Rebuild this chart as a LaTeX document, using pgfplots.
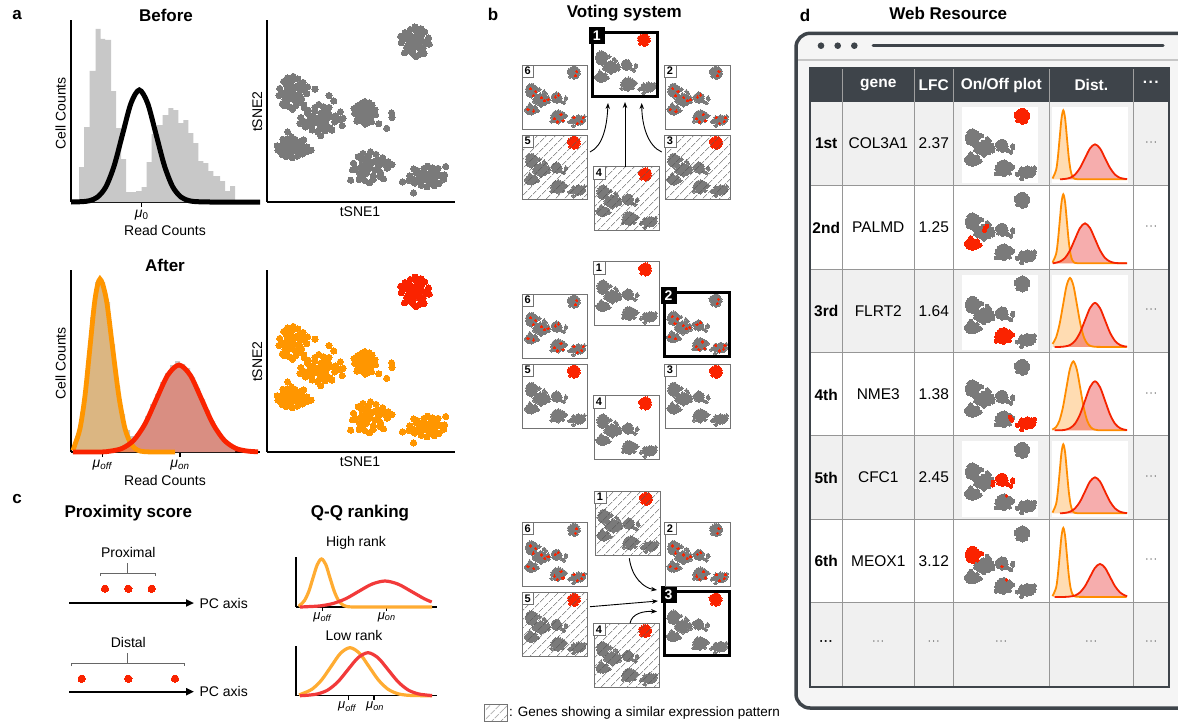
\documentclass[border=0pt]{standalone}
\usepackage{fontspec}
\setmainfont{Liberation Sans}
\usepackage{pgfplots}
\pgfplotsset{compat=1.18}
\usepackage{pgfplotstable}
\usetikzlibrary{patterns.meta,arrows.meta}

\definecolor{dotgray}{RGB}{122,122,122}
\definecolor{histgray}{RGB}{200,200,200}
\definecolor{aor}{RGB}{255,150,0}
\definecolor{ared}{RGB}{250,35,0}
\definecolor{qor}{RGB}{255,172,50}
\definecolor{qred}{RGB}{242,58,58}
\definecolor{frame}{RGB}{62,68,74}
\definecolor{rowg}{RGB}{240,240,240}
\definecolor{bgl}{RGB}{245,245,245}
\definecolor{gridc}{RGB}{150,150,150}
\definecolor{boxg}{RGB}{115,115,115}
\definecolor{dor}{RGB}{255,140,0}
\definecolor{dred}{RGB}{245,35,0}
\definecolor{dfill}{RGB}{235,60,60}

\newcommand{\fsz}[1]{\fontsize{#1}{#1}\selectfont}
\newcommand{\msize}{2pt}

\pgfplotstableread{
x y
7.87 8.80
8.23 8.89
7.51 8.93
7.99 9.23
7.75 8.38
8.31 8.46
7.43 8.50
8.11 8.12
7.63 9.48
8.59 9.01
7.15 8.76
8.39 9.35
7.35 9.31
8.35 8.16
7.31 8.20
7.87 9.61
7.91 7.99
8.07 8.97
7.67 8.67
8.03 8.50
7.63 9.14
8.63 8.67
7.11 9.10
8.19 9.52
7.99 8.67
7.79 9.06
8.15 8.72
7.55 8.72
7.95 9.40
7.75 8.16
8.47 8.72
7.27 8.97
8.23 9.18
7.51 9.18
8.23 8.33
7.47 8.33
}\TRc

\pgfplotstableread{
x y
1.40 6.00
1.04 6.10
1.76 6.14
1.28 6.48
1.52 5.53
0.96 5.62
1.84 5.67
1.16 5.24
1.64 6.76
0.68 6.24
2.12 5.95
0.88 6.62
1.92 6.57
0.92 5.29
1.96 5.34
1.40 6.90
1.36 5.10
1.20 6.19
1.60 5.86
1.24 5.67
1.64 6.38
0.64 5.86
2.16 6.33
1.08 6.81
0.82 5.40
2.55 6.20
1.28 5.86
1.48 6.29
1.12 5.91
1.72 5.91
1.32 6.67
1.52 5.29
0.80 5.91
2.00 6.19
1.04 6.43
1.76 6.43
1.04 5.48
1.80 5.48
}\ULc

\pgfplotstableread{
x y
2.70 4.60
3.15 4.52
2.25 4.48
2.85 4.20
2.55 5.00
3.25 4.92
2.15 4.88
3.00 5.24
2.40 3.96
3.60 4.40
1.80 4.64
3.35 4.08
2.05 4.12
3.30 5.20
2.00 5.16
2.70 3.84
2.75 5.36
2.95 4.44
2.45 4.72
2.90 4.88
2.40 4.28
3.65 4.72
1.75 4.32
3.10 3.92
3.30 5.85
3.55 5.55
3.90 4.95
3.85 4.55
2.85 3.65
3.45 3.95
2.85 4.72
2.60 4.36
3.05 4.68
2.30 4.68
2.80 4.04
2.55 5.20
3.45 4.68
1.95 4.44
3.15 4.24
2.25 4.24
3.15 5.04
2.20 5.04
}\MLc

\pgfplotstableread{
x y
1.35 3.00
0.97 2.94
1.73 2.91
1.22 2.70
1.48 3.30
0.88 3.24
1.82 3.21
1.10 3.48
1.61 2.52
0.59 2.85
2.12 3.03
0.80 2.61
1.90 2.64
0.84 3.45
1.95 3.42
1.35 2.43
1.31 3.57
1.14 2.88
1.56 3.09
1.18 3.21
1.61 2.76
0.54 3.09
2.16 2.79
1.01 2.49
1.10 3.85
2.35 2.85
1.22 3.09
1.44 2.82
1.05 3.06
1.69 3.06
1.27 2.58
1.48 3.45
0.71 3.06
1.99 2.88
0.97 2.73
1.73 2.73
0.97 3.33
1.78 3.33
}\LLc

\pgfplotstableread{
x y
5.20 4.90
5.47 4.97
4.93 5.00
5.29 5.23
5.11 4.58
5.53 4.64
4.87 4.67
5.38 4.38
5.02 5.42
5.74 5.06
4.66 4.87
5.59 5.32
4.81 5.29
5.56 4.41
4.78 4.45
5.20 5.52
5.23 4.28
5.35 5.03
5.05 4.80
5.32 4.67
5.02 5.16
5.77 4.80
4.63 5.13
5.44 5.45
6.63 4.90
6.65 4.65
6.37 4.05
4.05 4.60
4.00 4.20
5.95 4.30
5.29 4.80
5.14 5.10
5.41 4.84
4.96 4.84
5.26 5.36
5.11 4.41
5.65 4.84
4.75 5.03
5.47 5.19
4.93 5.19
5.47 4.54
4.90 4.54
}\Mc

\pgfplotstableread{
x y
5.50 1.90
5.05 1.99
5.95 2.04
5.35 2.35
5.65 1.45
4.95 1.54
6.05 1.59
5.20 1.18
5.80 2.62
4.60 2.13
6.40 1.86
4.85 2.49
6.15 2.44
4.90 1.23
6.20 1.27
5.50 2.76
5.45 1.05
5.25 2.08
5.75 1.77
5.30 1.59
5.80 2.26
4.55 1.77
6.45 2.22
5.10 2.67
6.65 2.05
4.45 1.20
5.35 1.77
5.60 2.17
5.15 1.81
5.90 1.81
5.40 2.53
5.65 1.23
4.75 1.81
6.25 2.08
5.05 2.31
5.95 2.31
5.05 1.41
6.00 1.41
}\BMc

\pgfplotstableread{
x y
8.50 1.40
8.95 1.34
8.05 1.31
8.65 1.10
8.35 1.70
9.05 1.64
7.95 1.61
8.80 1.88
8.20 0.92
9.40 1.25
7.60 1.43
9.15 1.01
7.85 1.04
9.10 1.85
7.80 1.82
8.50 0.83
8.55 1.97
8.75 1.28
8.25 1.49
8.70 1.61
8.20 1.16
9.45 1.49
7.55 1.19
8.90 0.89
7.20 1.10
7.80 0.50
9.50 1.95
8.65 1.49
8.40 1.22
8.85 1.46
8.10 1.46
8.60 0.98
8.35 1.85
9.25 1.46
7.75 1.28
8.95 1.13
8.05 1.13
8.95 1.73
8.00 1.73
}\BRc

\pgfplotstableread{
x y
1.20 6.30
2.00 5.90
1.60 5.20
2.90 4.90
3.40 4.40
0.80 3.10
1.70 2.80
3.90 4.60
5.00 5.00
5.50 5.30
4.90 1.60
5.90 2.30
5.30 1.10
6.20 1.30
7.90 1.80
9.10 1.20
8.40 0.90
9.30 1.80
8.30 9.00
8.10 8.30
}\SCc

\pgfplotsset{
  gdot/.style={only marks, mark=*, mark size=\msize, mark options={draw=dotgray, fill=dotgray, line width=0pt}},
  rdot/.style={only marks, mark=*, mark size=\msize, mark options={draw=ared, fill=ared, line width=0pt}},
  odot/.style={only marks, mark=*, mark size=\msize, mark options={draw=aor, fill=aor, line width=0pt}},
  lax/.style={scale only axis, anchor=south west, clip=false, axis lines=left,
     axis line style={-, line width=1.8pt}, ytick=\empty, xtick=\empty,
     xticklabels={},
     tick align=outside, major tick length=5pt, xtick style={line width=1.2pt, black}},
  hid/.style={scale only axis, hide axis, clip=false},
}

\newcommand{\allgray}{%
\addplot[gdot] table {\ULc};
\addplot[gdot] table {\LLc};
\addplot[gdot] table {\MLc};
\addplot[gdot] table {\Mc};
\addplot[gdot] table {\BMc};
\addplot[gdot] table {\BRc};
}
\newcommand{\redTR}{\addplot[rdot] table {\TRc};}
\newcommand{\scatR}{\addplot[gdot] table {\TRc};\addplot[rdot, mark size=1.1pt] table {\SCc};}

% panel b thumbnail: x, y (top-left, px), content
\newcommand{\thumb}[3]{%
\renewcommand{\msize}{1.8pt}%
\begin{axis}[hid, anchor=north west, at={(#1pt,-#2pt)}, width=65pt, height=64pt,
  xmin=0, xmax=10, ymin=0, ymax=10]
\allgray
#3
\end{axis}}

% panel d thumbnail: y, red content
\newcommand{\tthumb}[2]{%
\renewcommand{\msize}{2pt}%
\begin{axis}[hid, anchor=north west, at={(962.3pt,-#1pt)}, width=76pt, height=75.4pt,
  xmin=0, xmax=10, ymin=0, ymax=10]
\allgray
\addplot[gdot] table {\TRc};
#2
\end{axis}}

% panel d distribution: y, orange coords, red coords
\newcommand{\tdist}[3]{%
\begin{axis}[hid, anchor=north west, at={(1051.7pt,-#1pt)}, width=76.6pt, height=75.4pt,
  xmin=0, xmax=76.6, ymin=-3.4, ymax=72]
\addplot[draw=none, fill=dor, fill opacity=0.3, smooth] coordinates {#2} \closedcycle;
\addplot[draw=none, fill=dfill, fill opacity=0.42, smooth] coordinates {#3} \closedcycle;
\addplot[dor, line width=1.8pt, smooth] coordinates {#2};
\addplot[dred, line width=1.8pt, smooth] coordinates {#3};
\end{axis}}

\begin{document}
\begin{tikzpicture}
\begin{scope}[x=1pt,y=-1pt]
\useasboundingbox (0,0) rectangle (1178,725);
\fill[white] (0,0) rectangle (1178,725);
% browser frame
\draw[frame, line width=3.5pt, fill=bgl, rounded corners=14pt] (796,33.3) rectangle (1210,708);
\draw[gray!45, line width=1.2pt] (798,60) -- (1178,60);
\fill[frame] (821,45.7) circle (3.3) (837.7,45.7) circle (3.3) (854.3,45.7) circle (3.3);
\draw[frame, line width=3pt, line cap=round] (873,45.7) -- (1163,45.7);
% table
\fill[frame] (810,68.3) rectangle (1169.3,101.7);
\fill[rowg] (810,101.7) rectangle (1169.3,185.7);
\fill[white] (810,185.7) rectangle (1169.3,269.3);
\fill[rowg] (810,269.3) rectangle (1169.3,352.7);
\fill[white] (810,352.7) rectangle (1169.3,435.7);
\fill[rowg] (810,435.7) rectangle (1169.3,519.3);
\fill[white] (810,519.3) rectangle (1169.3,602.3);
\fill[rowg] (810,602.3) rectangle (1169.3,686.7);
\foreach \yy in {185.7,269.3,352.7,435.7,519.3,602.3} \draw[gridc, line width=0.8pt] (810,\yy) -- (1169.3,\yy);
\foreach \xx in {842.3,914.3,953.3,1049.3,1133.3} {\draw[gridc, line width=0.8pt] (\xx,101.7) -- (\xx,686.7); \draw[gray!75, line width=0.8pt] (\xx,68.3) -- (\xx,101.7);}
\draw[frame, line width=2pt] (810,68.3) rectangle (1169.3,686.7);
\foreach \yy in {107.3,191.3,274.9,358.3,441.3,524.9} {\fill[white] (962.3,\yy) rectangle ++(76,75.4); \fill[white] (1051.7,\yy) rectangle ++(76.6,75.4);}
\end{scope}

% ===== panel a =====
\begin{axis}[lax, at={(71pt,-202pt)}, width=189pt, height=182pt, xmin=71, xmax=260, ymin=0, ymax=182, xtick={141.7}]
\addplot[ybar interval, fill=histgray, draw=none] coordinates {(79,35) (84,75) (89.7,131) (95.7,173) (100.7,163) (105,162) (111,111) (116,74) (121,43) (126,10) (131,10) (136,11) (141.7,15) (146.7,40) (151.7,68) (156.7,77) (162.7,87) (168.3,94) (173.3,92) (178.3,79) (183.3,82) (188.3,69) (193.3,59) (198.3,41) (203.3,39) (208.3,31) (213.3,26) (220,21) (225,11) (230,16) (235,16)};
\addplot[black, line width=5pt, smooth] coordinates {(71,0) (81,0.3) (89.2,1.2) (97.5,4.9) (105.9,15.2) (114.2,36.4) (122.6,67.9) (131,98.8) (139.3,112) (147.6,98.8) (156,67.9) (164.4,36.4) (172.7,15.2) (181.1,4.9) (189.4,1.2) (197.6,0.3) (210,0) (260,0)};
\end{axis}

\renewcommand{\msize}{3.1pt}
\begin{axis}[lax, at={(267pt,-202pt)}, width=188pt, height=182pt, xmin=0, xmax=10, ymin=0, ymax=10]
\allgray
\addplot[gdot] table {\TRc};
\end{axis}

\begin{axis}[lax, at={(71pt,-452pt)}, width=189pt, height=182pt, xmin=71, xmax=260, ymin=0, ymax=182, xtick={102.7,180}]
\addplot[ybar interval, fill=histgray, draw=none] coordinates {(75,16) (80,40) (85,82) (90,135) (95,170) (100,170) (105,150) (110,108) (115,66) (120,38) (125,22) (130,16) (135,18) (140,25) (145,36) (150,48) (155,58) (160,70) (165,79) (170,87) (175,91) (180,88) (185,84) (190,75) (195,64) (200,53) (205,42) (210,31) (215,22) (220,15) (225,10) (230,6) (235,6)};
\addplot[draw=none, fill=aor, fill opacity=0.35, smooth] coordinates {(73,1.5) (75,7.6) (80,23.4) (85,56.2) (90,105) (95,152.7) (100,173) (106.3,152.7) (112.5,105) (118.8,56.2) (125,23.4) (131.3,7.6) (137.5,1.9) (143.8,0.4) (155,0)} \closedcycle;
\addplot[draw=none, fill=ared, fill opacity=0.35, smooth] coordinates {(100,0) (111.2,1) (122.5,3.8) (133.8,11.8) (145.1,28.2) (156.4,52.8) (167.7,76.8) (179,87) (190.3,76.8) (201.6,52.8) (212.9,28.2) (224.2,11.8) (235.5,3.8) (246.8,1) (258,0.2)} \closedcycle;
\addplot[aor, line width=4.8pt, smooth] coordinates {(73,1.5) (75,7.6) (80,23.4) (85,56.2) (90,105) (95,152.7) (100,173) (106.3,152.7) (112.5,105) (118.8,56.2) (125,23.4) (131.3,7.6) (137.5,1.9) (143.8,0.4) (155,0) (175,0)};
\addplot[ared, line width=4.8pt, smooth] coordinates {(73,0) (100,0) (111.2,1) (122.5,3.8) (133.8,11.8) (145.1,28.2) (156.4,52.8) (167.7,76.8) (179,87) (190.3,76.8) (201.6,52.8) (212.9,28.2) (224.2,11.8) (235.5,3.8) (246.8,1) (258,0.2)};
\end{axis}

\begin{axis}[lax, at={(267pt,-452pt)}, width=188pt, height=182pt, xmin=0, xmax=10, ymin=0, ymax=10]
\addplot[odot] table {\ULc};
\addplot[odot] table {\LLc};
\addplot[odot] table {\MLc};
\addplot[odot] table {\Mc};
\addplot[odot] table {\BMc};
\addplot[odot] table {\BRc};
\addplot[rdot] table {\TRc};
\end{axis}

% ===== panel c =====
\begin{axis}[hid, anchor=south west, at={(60pt,-700pt)}, width=140pt, height=140pt, xmin=60, xmax=200, ymin=-700, ymax=-560]
\addplot[only marks, mark=*, mark size=3.7pt, mark options={draw=ared, fill=ared, line width=0pt}] coordinates {(105,-588.7) (128.3,-588.7) (151.7,-588.7) (81.7,-678.7) (128.3,-678.7) (175,-678.7)};
\end{axis}

\begin{axis}[lax, axis line style={-, line width=1.5pt}, major tick length=4pt, at={(296pt,-607pt)}, width=141pt, height=50pt, xmin=296, xmax=437, ymin=0, ymax=50, xtick={322.7,386.7}]
\addplot[qor, line width=3.2pt, smooth] coordinates {(298.5,0.6) (300.3,2.1) (304.5,6.5) (308.8,15.6) (313,29.1) (317.3,42.4) (321.5,48) (325.8,42.4) (330,29.1) (334.3,15.6) (338.5,6.5) (342.8,2.1) (347,0.5) (351.3,0.1) (370,0) (432,0)};
\addplot[qred, line width=3.2pt, smooth] coordinates {(300,0) (307,0.3) (320,1.1) (333,3.5) (346,8.4) (359,15.8) (372,22.9) (385,26) (398,22.9) (411,15.8) (424,8.4) (431.7,5)};
\end{axis}

\begin{axis}[lax, axis line style={-, line width=1.5pt}, major tick length=4pt, at={(296pt,-695.7pt)}, width=141pt, height=50pt, xmin=296, xmax=437, ymin=0, ymax=50, xtick={348.3,374}]
\addplot[qor, line width=3.2pt, smooth] coordinates {(299,0.8) (302.5,2.1) (312,6.5) (321.5,15.6) (331,29.1) (340.5,42.4) (350,48) (359.5,42.4) (369,29.1) (378.5,15.6) (388,6.5) (397.5,2.1) (407,0.5) (416.5,0.1) (432,0)};
\addplot[qred, line width=3.2pt, smooth] coordinates {(300,0) (308,0.5) (318,1.9) (328,5.8) (338,14) (348,26.1) (358,37.9) (368,43) (378,37.9) (388,26.1) (398,14) (408,5.8) (418,1.9) (428,0.5) (432,0.2)};
\end{axis}

% ===== panel b thumbnails =====
\thumb{592.7}{32.3}{\redTR}
\thumb{522.7}{65}{\scatR}
\thumb{665}{65}{\scatR}
\thumb{522.7}{135}{\redTR}
\thumb{665}{135}{\redTR}
\thumb{594}{166.7}{\redTR}

\thumb{594}{261.7}{\redTR}
\thumb{522.7}{294}{\scatR}
\thumb{664.5}{292.7}{\scatR}
\thumb{522.7}{364}{\redTR}
\thumb{665}{364}{\redTR}
\thumb{594}{395.7}{\redTR}

\thumb{595}{491}{\redTR}
\thumb{522.7}{522.3}{\scatR}
\thumb{665}{522.3}{\scatR}
\thumb{522.7}{592.3}{\redTR}
\thumb{664.5}{591.7}{\redTR}
\thumb{594}{623.3}{\redTR}

% ===== panel d plots =====
\tthumb{107.3}{\redTR}
\tthumb{191.3}{\addplot[rdot] table {\LLc};\addplot[rdot] coordinates {(3.0,5.1) (3.2,5.35) (2.9,4.8)};}
\tthumb{274.9}{\addplot[rdot] table {\BMc};}
\tthumb{358.3}{\addplot[rdot] table {\BRc};\addplot[rdot] coordinates {(6.3,2.2) (6.5,1.8)};}
\tthumb{441.3}{\addplot[rdot] table {\Mc};\addplot[rdot, mark size=1.2pt] coordinates {(5.85,2.75)};}
\tthumb{524.9}{\addplot[rdot] table {\ULc};\addplot[rdot, mark size=1.3pt] coordinates {(5.2,4.5) (5.8,2.7)};}

\tdist{107.3}{(0.8,0.8) (4.4,9.3) (6.2,22.4) (8.0,41.8) (9.8,60.9) (11.6,69) (13.4,60.9) (15.2,41.8) (17.0,22.4) (18.8,9.3) (20.6,3.0) (22.4,0.8) (26,0.1) (40,0) (75,0)}{(8.3,0) (13.3,0.4) (18.3,1.5) (23.3,4.7) (28.3,11.4) (33.3,21.2) (38.3,30.9) (43.3,35) (48.3,30.9) (53.3,21.2) (58.3,11.4) (63.3,4.7) (68.3,1.5) (73.3,0.4) (75.5,0.2)}
\tdist{191.3}{(0.8,0.8) (4.4,9.3) (6.2,22.4) (8.0,41.8) (9.8,60.9) (11.6,69) (13.4,60.9) (15.2,41.8) (17.0,22.4) (18.8,9.3) (20.6,3.0) (22.4,0.8) (26,0.1) (40,0) (75,0)}{(1,0) (3.3,0.4) (8.3,1.8) (13.3,5.4) (18.3,13) (23.3,24.3) (28.3,35.3) (33.3,40) (38.3,35.3) (43.3,24.3) (48.3,13) (53.3,5.4) (58.3,1.8) (63.3,0.4) (68.3,0.1) (75.5,0)}
\tdist{274.9}{(0.8,3.0) (4.3,9.3) (7.8,22.4) (11.3,41.8) (14.8,60.9) (18.3,69) (21.8,60.9) (25.3,41.8) (28.8,22.4) (32.3,9.3) (35.8,3.0) (39.3,0.8) (42.8,0.15) (50,0) (75,0)}{(3,0) (8.3,0) (13.3,0.5) (18.3,1.9) (23.3,6) (28.3,14.3) (33.3,26.7) (38.3,38.8) (43.3,44) (48.3,38.8) (53.3,26.7) (58.3,14.3) (63.3,6) (68.3,1.9) (73.3,0.5) (75.5,0.3)}
\tdist{358.3}{(0.6,0.8) (4.1,3.0) (7.6,9.3) (11.1,22.4) (14.6,41.8) (18.1,60.9) (21.6,69) (25.1,60.9) (28.6,41.8) (32.1,22.4) (35.6,9.3) (39.1,3.0) (42.6,0.8) (46.1,0.15) (52,0) (75,0)}{(3,0) (8.3,0) (13.3,0.5) (18.3,2.2) (23.3,6.6) (28.3,15.9) (33.3,29.7) (38.3,43.2) (43.3,49) (48.3,43.2) (53.3,29.7) (58.3,15.9) (63.3,6.6) (68.3,2.2) (73.3,0.5) (75.5,0.3)}
\tdist{441.3}{(0.8,0.8) (4.4,9.3) (6.2,22.4) (8.0,41.8) (9.8,60.9) (11.6,69) (13.4,60.9) (15.2,41.8) (17.0,22.4) (18.8,9.3) (20.6,3.0) (22.4,0.8) (26,0.1) (40,0) (75,0)}{(8.3,0) (13.3,0.4) (18.3,1.6) (23.3,4.9) (28.3,11.7) (33.3,21.8) (38.3,31.8) (43.3,36) (48.3,31.8) (53.3,21.8) (58.3,11.7) (63.3,4.9) (68.3,1.6) (73.3,0.4) (75.5,0.2)}
\tdist{524.9}{(0.8,0.8) (4.4,9.3) (6.2,22.4) (8.0,41.8) (9.8,60.9) (11.6,69) (13.4,60.9) (15.2,41.8) (17.0,22.4) (18.8,9.3) (20.6,3.0) (22.4,0.8) (26,0.1) (40,0) (75,0)}{(3,0) (13.3,0) (18.3,0.4) (23.3,1.4) (28.3,4.5) (33.3,10.7) (38.3,20) (43.3,29.1) (48.3,33) (53.3,29.1) (58.3,20) (63.3,10.7) (68.3,4.5) (73.3,1.4) (75.5,0.9)}

% ===== overlay =====
\begin{scope}[x=1pt,y=-1pt]
\tikzset{
  hatchp/.style={pattern={Lines[angle=45,distance=6.5pt,line width=0.55pt]}, pattern color=black!65},
  lbl/.style={draw=boxg, fill=white, inner sep=0pt, minimum width=11.5pt, minimum height=12.5pt, font={\bfseries\fsz{11}}},
  slbl/.style={fill=black, text=white, inner sep=0pt, minimum width=16pt, minimum height=17pt, font={\bfseries\fsz{14}}},
  arr/.style={line width=0.9pt, -{Stealth[length=6pt,width=4.5pt]}},
}
\newcommand{\hatchbox}[2]{\fill[hatchp] (#1,#2) rectangle ++(65,64);}
\newcommand{\tframe}[3]{\draw[boxg, line width=0.9pt] (#1,#2) rectangle ++(65,64); \node[lbl] at (#1+5,#2+6) {#3};}
\newcommand{\sframe}[3]{\draw[black, line width=2.8pt] (#1,#2) rectangle ++(65,64); \node[slbl] at (#1+4,#2+3) {#3};}

% group 1
\hatchbox{522.7}{135} \hatchbox{665}{135} \hatchbox{594}{166.7}
\sframe{592.7}{32.3}{1}
\tframe{522.7}{65}{6} \tframe{665}{65}{2} \tframe{522.7}{135}{5} \tframe{665}{135}{3} \tframe{594}{166.7}{4}
\draw[arr] (590,152) .. controls (603,146) and (607,126) .. (608,103);
\draw[arr] (625,166.7) -- (625,102);
\draw[arr] (661.7,152) .. controls (648,146) and (642,126) .. (641.7,103);
% group 2
\sframe{664.5}{292.7}{2}
\tframe{594}{261.7}{1} \tframe{522.7}{294}{6} \tframe{522.7}{364}{5} \tframe{665}{364}{3} \tframe{594}{395.7}{4}
% group 3
\hatchbox{595}{491} \hatchbox{522.7}{592.3} \hatchbox{594}{623.3}
\sframe{664.5}{591.7}{3}
\tframe{595}{491}{1} \tframe{522.7}{522.3}{6} \tframe{665}{522.3}{2} \tframe{522.7}{592.3}{5} \tframe{594}{623.3}{4}
\draw[arr] (629.3,558.3) .. controls (632,578) and (644,588) .. (657,590);
\draw[arr] (590,606.7) -- (658,601);
\draw[arr] (630,623.3) .. controls (632,613) and (644,611) .. (657,611.5);
% legend
\fill[hatchp] (484,704) rectangle (507,721);
\draw[boxg, line width=0.6pt] (484,704) rectangle (507,721);
\node[anchor=west, font=\fsz{13.5}, inner sep=1pt] at (508,713.5) {: Genes showing a similar expression pattern};

% titles / letters
\node[font={\bfseries\fsz{17}}] at (17,15) {a};
\node[font={\bfseries\fsz{17}}] at (493,14) {b};
\node[font={\bfseries\fsz{17}}] at (17,499) {c};
\node[font={\bfseries\fsz{17}}] at (805,15) {d};
\node[font={\bfseries\fsz{17}}] at (166,15) {Before};
\node[font={\bfseries\fsz{17}}] at (165,265) {After};
\node[font={\bfseries\fsz{17}}] at (624.3,13.3) {Voting system};
\node[font={\bfseries\fsz{17}}] at (948.3,13.3) {Web Resource};
\node[font={\bfseries\fsz{17}}] at (128.3,512.7) {Proximity score};
\node[font={\bfseries\fsz{17}}] at (360,512.7) {Q-Q ranking};

% panel a labels
\node[rotate=90, font=\fsz{14}] at (60.7,113.3) {Cell Counts};
\node[rotate=90, font=\fsz{14}] at (60.7,363.3) {Cell Counts};
\node[font=\fsz{14}] at (165,230) {Read Counts};
\node[font=\fsz{14}] at (165,480) {Read Counts};
\node[font=\fsz{14}] at (141.7,215) {\textit{μ}\textsubscript{0}};
\node[font=\fsz{14}] at (102.7,465) {\textit{μ}\textsubscript{\textit{off}}};
\node[font=\fsz{14}] at (180,465) {\textit{μ}\textsubscript{\textit{on}}};
\node[rotate=90, font=\fsz{14}] at (257.3,111.7) {tSNE2};
\node[rotate=90, font=\fsz{14}] at (257.3,361.7) {tSNE2};
\node[font=\fsz{14}] at (360,211.7) {tSNE1};
\node[font=\fsz{14}] at (360,461.7) {tSNE1};

% panel c
\node[font=\fsz{14}] at (128.3,552.7) {Proximal};
\node[font=\fsz{14}] at (128.3,642.7) {Distal};
\draw[gray!80!black, line width=0.8pt] (100,576) -- (100,573.3) -- (155.3,573.3) -- (155.3,576) (127.7,573.3) -- (127.7,563.3);
\draw[gray!80!black, line width=0.8pt] (71.7,666) -- (71.7,663.3) -- (184,663.3) -- (184,666) (127.7,663.3) -- (127.7,653.3);
\draw[line width=2pt, -{Triangle[length=8pt,width=7pt]}] (69,603) -- (194,603);
\draw[line width=2pt, -{Triangle[length=8pt,width=7pt]}] (69,691.7) -- (194,691.7);
\node[anchor=west, font=\fsz{14}] at (196,603) {PC axis};
\node[anchor=west, font=\fsz{14}] at (196,691.7) {PC axis};
\node[font=\fsz{14}] at (356,543.3) {High rank};
\node[font=\fsz{14}] at (354,635.7) {Low rank};
\node[font=\fsz{13}] at (322.7,617) {\textit{μ}\textsubscript{\textit{off}}};
\node[font=\fsz{13}] at (386.7,617) {\textit{μ}\textsubscript{\textit{on}}};
\node[font=\fsz{13}] at (347.5,706.5) {\textit{μ}\textsubscript{\textit{off}}};
\node[font=\fsz{13}] at (375,706.5) {\textit{μ}\textsubscript{\textit{on}}};

% panel d text
\newcommand{\mdots}{·\kern0.6pt·\kern0.6pt·}
\begin{scope}[every node/.style={text=white, font={\bfseries\fsz{15.5}}}]
\node at (878.3,85) {gene};
\node at (933.8,85) {LFC};
\node at (1001.3,85) {On/Off plot};
\node at (1091.3,85) {Dist.};
\node at (1151.3,84) {\mdots};
\end{scope}
\foreach \yy/\rk/\gn/\lf in {143.5/1st/COL3A1/2.37, 227.5/2nd/PALMD/1.25, 311/3rd/FLRT2/1.64, 394.5/4th/NME3/1.38, 477.5/5th/CFC1/2.45, 561/6th/MEOX1/3.12} {
  \node[font={\bfseries\fsz{15.5}}] at (826.2,\yy) {\rk};
  \node[font=\fsz{15.5}] at (878.3,\yy) {\gn};
  \node[font=\fsz{15.5}] at (933.8,\yy) {\lf};
  \node[font=\fsz{11}, text=black!70] at (1151.3,\yy) {\mdots};
}
\node[font={\bfseries\fsz{12}}] at (826.2,643) {\mdots};
\foreach \xx in {878.3,933.8,1001.3,1091.3,1151.3} \node[font=\fsz{11}, text=black!70] at (\xx,643) {\mdots};
\end{scope}
\end{tikzpicture}
\end{document}
